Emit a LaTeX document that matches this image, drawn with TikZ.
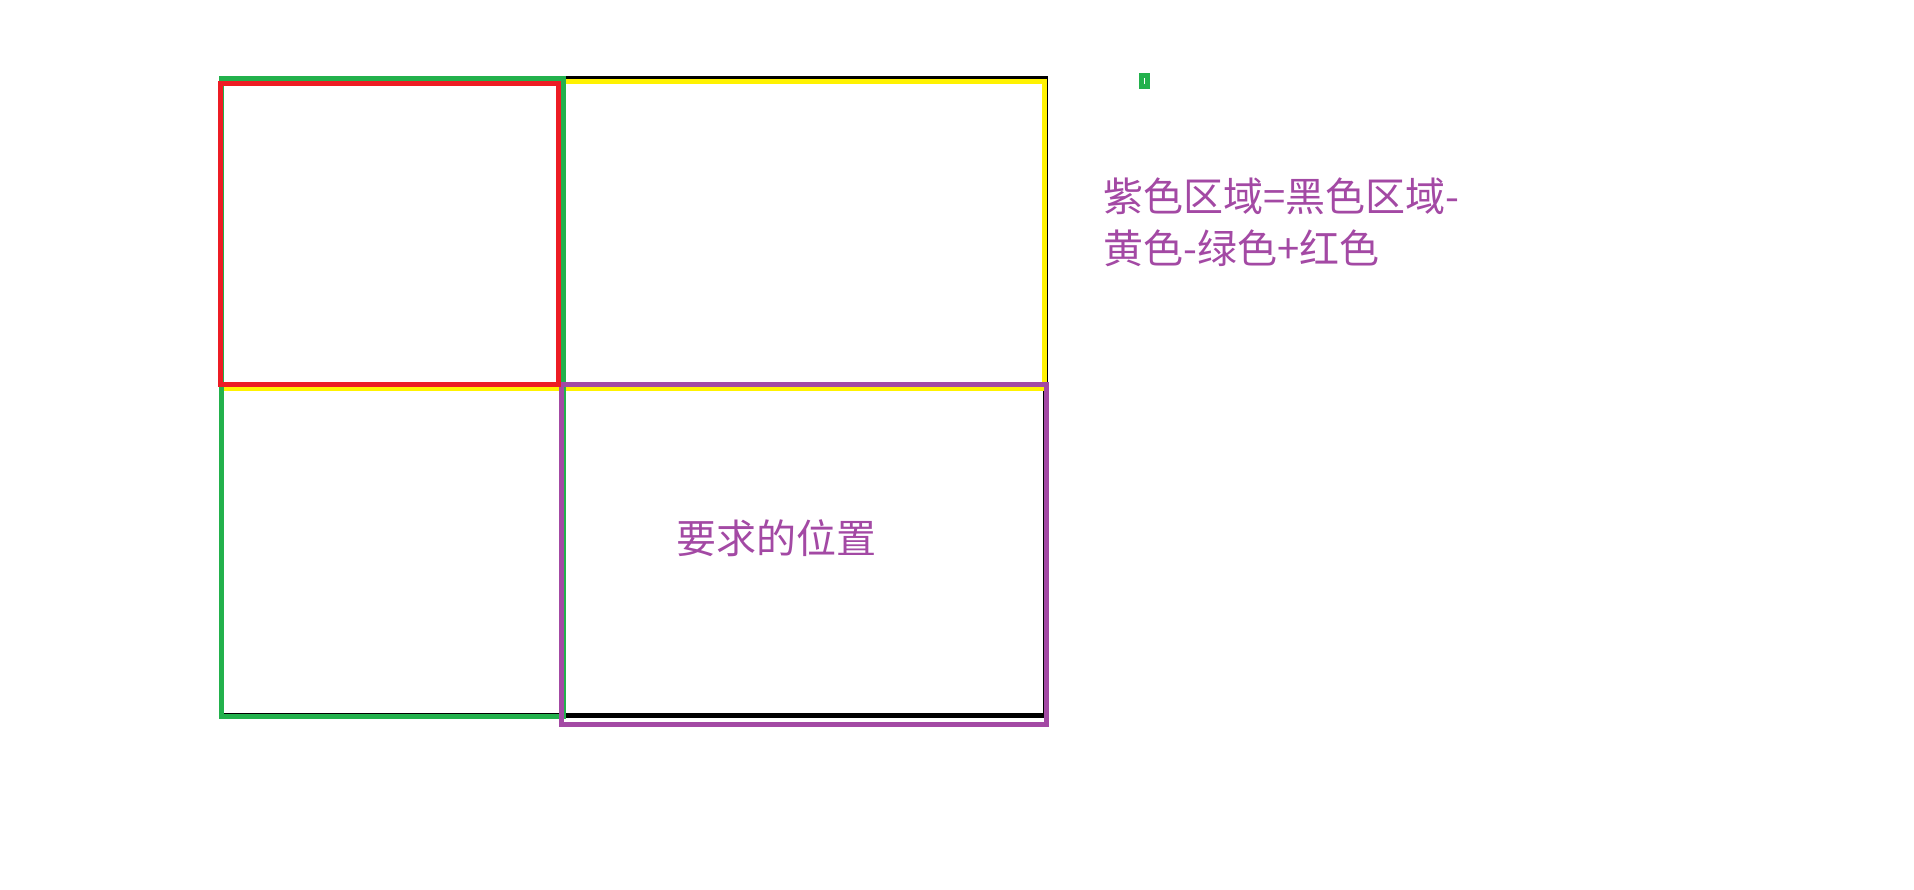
\documentclass[tikz,border=0pt]{standalone}
\usepackage{fontspec}
\newfontfamily\cjk{Noto Sans CJK SC}
\definecolor{pblack}{HTML}{000000}
\definecolor{pyellow}{HTML}{FFF200}
\definecolor{pgreen}{HTML}{22B14C}
\definecolor{ppurple}{HTML}{A349A4}
\definecolor{pred}{HTML}{ED1C24}
\begin{document}
\begin{tikzpicture}[x=0.5pt,y=-0.5pt,
  frame/.style={line width=2.5pt,line join=miter},
  label/.style={font=\cjk\fontsize{20pt}{26pt}\selectfont,text=ppurple,inner sep=0pt}]
\useasboundingbox (0,0) rectangle (1914,889);
\draw[frame,pblack] (221.5,78.5) rectangle (1045.5,715.5);
\draw[frame,pyellow,line width=2.6pt] (221.5,81.3) rectangle (1044.5,388.5);
\draw[frame,pgreen] (221.5,78.5) rectangle (563,716);
\draw[frame,ppurple] (561.5,384.5) rectangle (1046.5,724.5);
\draw[frame,pred] (220.5,83.5) rectangle (558.5,384.5);
\fill[pgreen] (1139,73) rectangle (1150,89);
\fill[white] (1144,78) rectangle (1145.3,84);
\node[label,anchor=base west,align=left] (formula) at (1103,263) {紫色区域=黑色区域-\\黄色-绿色+红色};
\node[label] (target) at (776,538) {要求的位置};
\end{tikzpicture}
\end{document}
